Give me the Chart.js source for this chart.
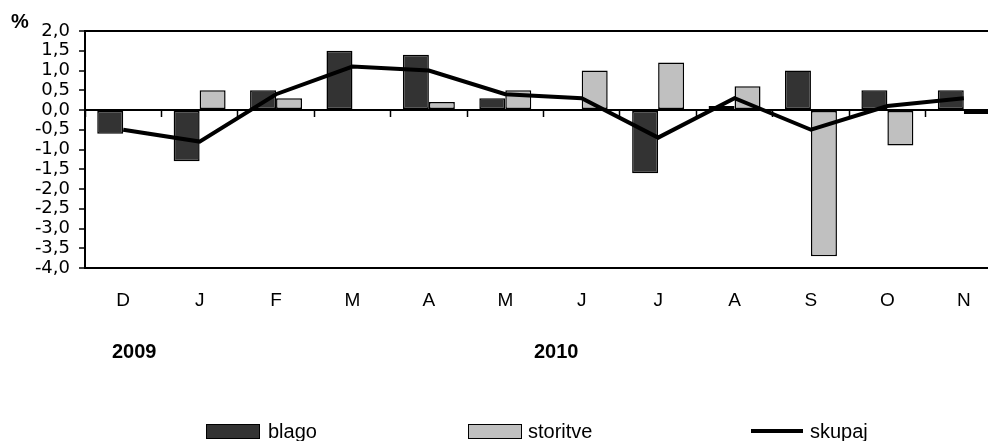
<!DOCTYPE html>
<html>
<head>
<meta charset="utf-8">
<script src="https://cdn.jsdelivr.net/npm/chart.js@4"></script>
<style>
    html, body { margin: 0; padding: 0; background: #fff; }
    #wrap { position: relative; width: 988px; height: 441px; overflow: hidden; font-family: "Liberation Sans", Arial, sans-serif; color: #000; }
    #grafico { position: absolute; left: 0; top: 0; }
    .txt { position: absolute; white-space: nowrap; }
    .bold { font-weight: bold; }
    .leg { position: absolute; top: 421px; height: 20px; display: flex; align-items: center; font-size: 20px; }
    .sw { display: inline-block; box-sizing: border-box; }
</style>
</head>
<body>
<div id="wrap">
    <canvas id="grafico" width="1010" height="441"></canvas>
    <div class="txt bold" style="left:11px; top:10px; font-size:20px;">%</div>
    <div class="txt bold" style="left:112px; top:340px; font-size:20px;">2009</div>
    <div class="txt bold" style="left:534px; top:340px; font-size:20px;">2010</div>
    <div id="legenda"></div>
</div>
<script>
// mesece (dec 2009 - nov 2010)
const mesci = ["D", "J", "F", "M", "A", "M", "J", "J", "A", "S", "O", "N"];
const blago = [-0.6, -1.3, 0.5, 1.5, 1.4, 0.3, 0, -1.6, 0.1, 1.0, 0.5, 0.5];
const storitve = [0, 0.5, 0.3, 0, 0.2, 0.5, 1.0, 1.2, 0.6, -3.7, -0.9, -0.1];
const skupaj = [-0.5, -0.8, 0.4, 1.1, 1.0, 0.4, 0.3, -0.7, 0.3, -0.5, 0.1, 0.3];
const yMin = -4, yMax = 2, yKorak = 0.5;

let chart;

document.addEventListener("DOMContentLoaded", function () {
    narisi();
    legenda();
});

function narisi() {
    const ctx = document.getElementById("grafico").getContext("2d");

    chart = new Chart(ctx, {
        type: 'bar',
        data: {
            labels: mesci,
            datasets: [{
                type: 'line',
                label: 'skupaj',
                data: skupaj,
                borderColor: '#000',
                borderWidth: 4,
                pointRadius: 0,
                fill: false,
                tension: 0,
                order: 0
            }, {
                label: 'blago',
                data: blago,
                backgroundColor: '#333333',
                borderColor: '#000',
                borderWidth: 1.5,
                borderSkipped: false,
                categoryPercentage: 0.68,
                barPercentage: 1.0,
                order: 1
            }, {
                label: 'storitve',
                data: storitve,
                backgroundColor: '#c0c0c0',
                borderColor: '#000',
                borderWidth: 1.5,
                borderSkipped: false,
                categoryPercentage: 0.68,
                barPercentage: 1.0,
                order: 1
            }]
        },
        options: {
            responsive: false,
            animation: false,
            devicePixelRatio: 1,
            layout: { padding: { top: 31, right: 8, left: 0, bottom: 0 } },
            plugins: {
                legend: { display: false },
                tooltip: { enabled: false }
            },
            scales: {
                x: {
                    position: { y: 0 },
                    z: 1,
                    grid: {
                        offset: true,
                        drawOnChartArea: false,
                        drawTicks: true,
                        tickLength: 6,
                        tickWidth: 1.5,
                        tickColor: '#000'
                    },
                    border: { display: true, color: '#000', width: 2 },
                    ticks: { display: false }
                },
                x2: {
                    type: 'category',
                    labels: mesci,
                    position: 'bottom',
                    offset: true,
                    grid: { display: false },
                    border: { display: false },
                    ticks: {
                        color: '#000',
                        padding: 13,
                        autoSkip: false,
                        maxRotation: 0,
                        font: { family: "'Liberation Sans', Arial", size: 19 }
                    },
                    afterFit: function (s) { s.height = 173; }
                },
                y: {
                    min: yMin,
                    max: yMax,
                    grid: {
                        color: function (c) {
                            return (c.tick && (c.tick.value === yMin || c.tick.value === yMax)) ? '#000' : 'rgba(0,0,0,0)';
                        },
                        lineWidth: 2,
                        tickColor: '#000',
                        tickLength: 6,
                        tickWidth: 1.5
                    },
                    border: { display: true, color: '#000', width: 2 },
                    ticks: {
                        stepSize: yKorak,
                        autoSkip: false,
                        color: '#000',
                        padding: 9,
                        font: { family: "'DejaVu Sans'", size: 18 },
                        callback: function (v) { return v.toFixed(1).replace('.', ','); }
                    },
                    afterFit: function (s) { s.width = 85; }
                }
            }
        }
    });
}

// legenda v HTML, barve vzete iz grafa
function legenda() {
    const el = document.getElementById("legenda");
    const ds = chart.data.datasets;
    const b = ds[1], s = ds[2], l = ds[0];
    el.innerHTML = `
        <div class="leg" style="left:206px;"><span class="sw" style="width:54px;height:15px;background:${b.backgroundColor};border:1.5px solid ${b.borderColor};"></span><span style="margin-left:8px;">${b.label}</span></div>
        <div class="leg" style="left:468px;"><span class="sw" style="width:54px;height:15px;background:${s.backgroundColor};border:1.5px solid ${s.borderColor};"></span><span style="margin-left:6px;">${s.label}</span></div>
        <div class="leg" style="left:751px;"><span class="sw" style="width:52px;height:4px;background:${l.borderColor};"></span><span style="margin-left:7px;">${l.label}</span></div>
    `;
}
</script>
</body>
</html>
